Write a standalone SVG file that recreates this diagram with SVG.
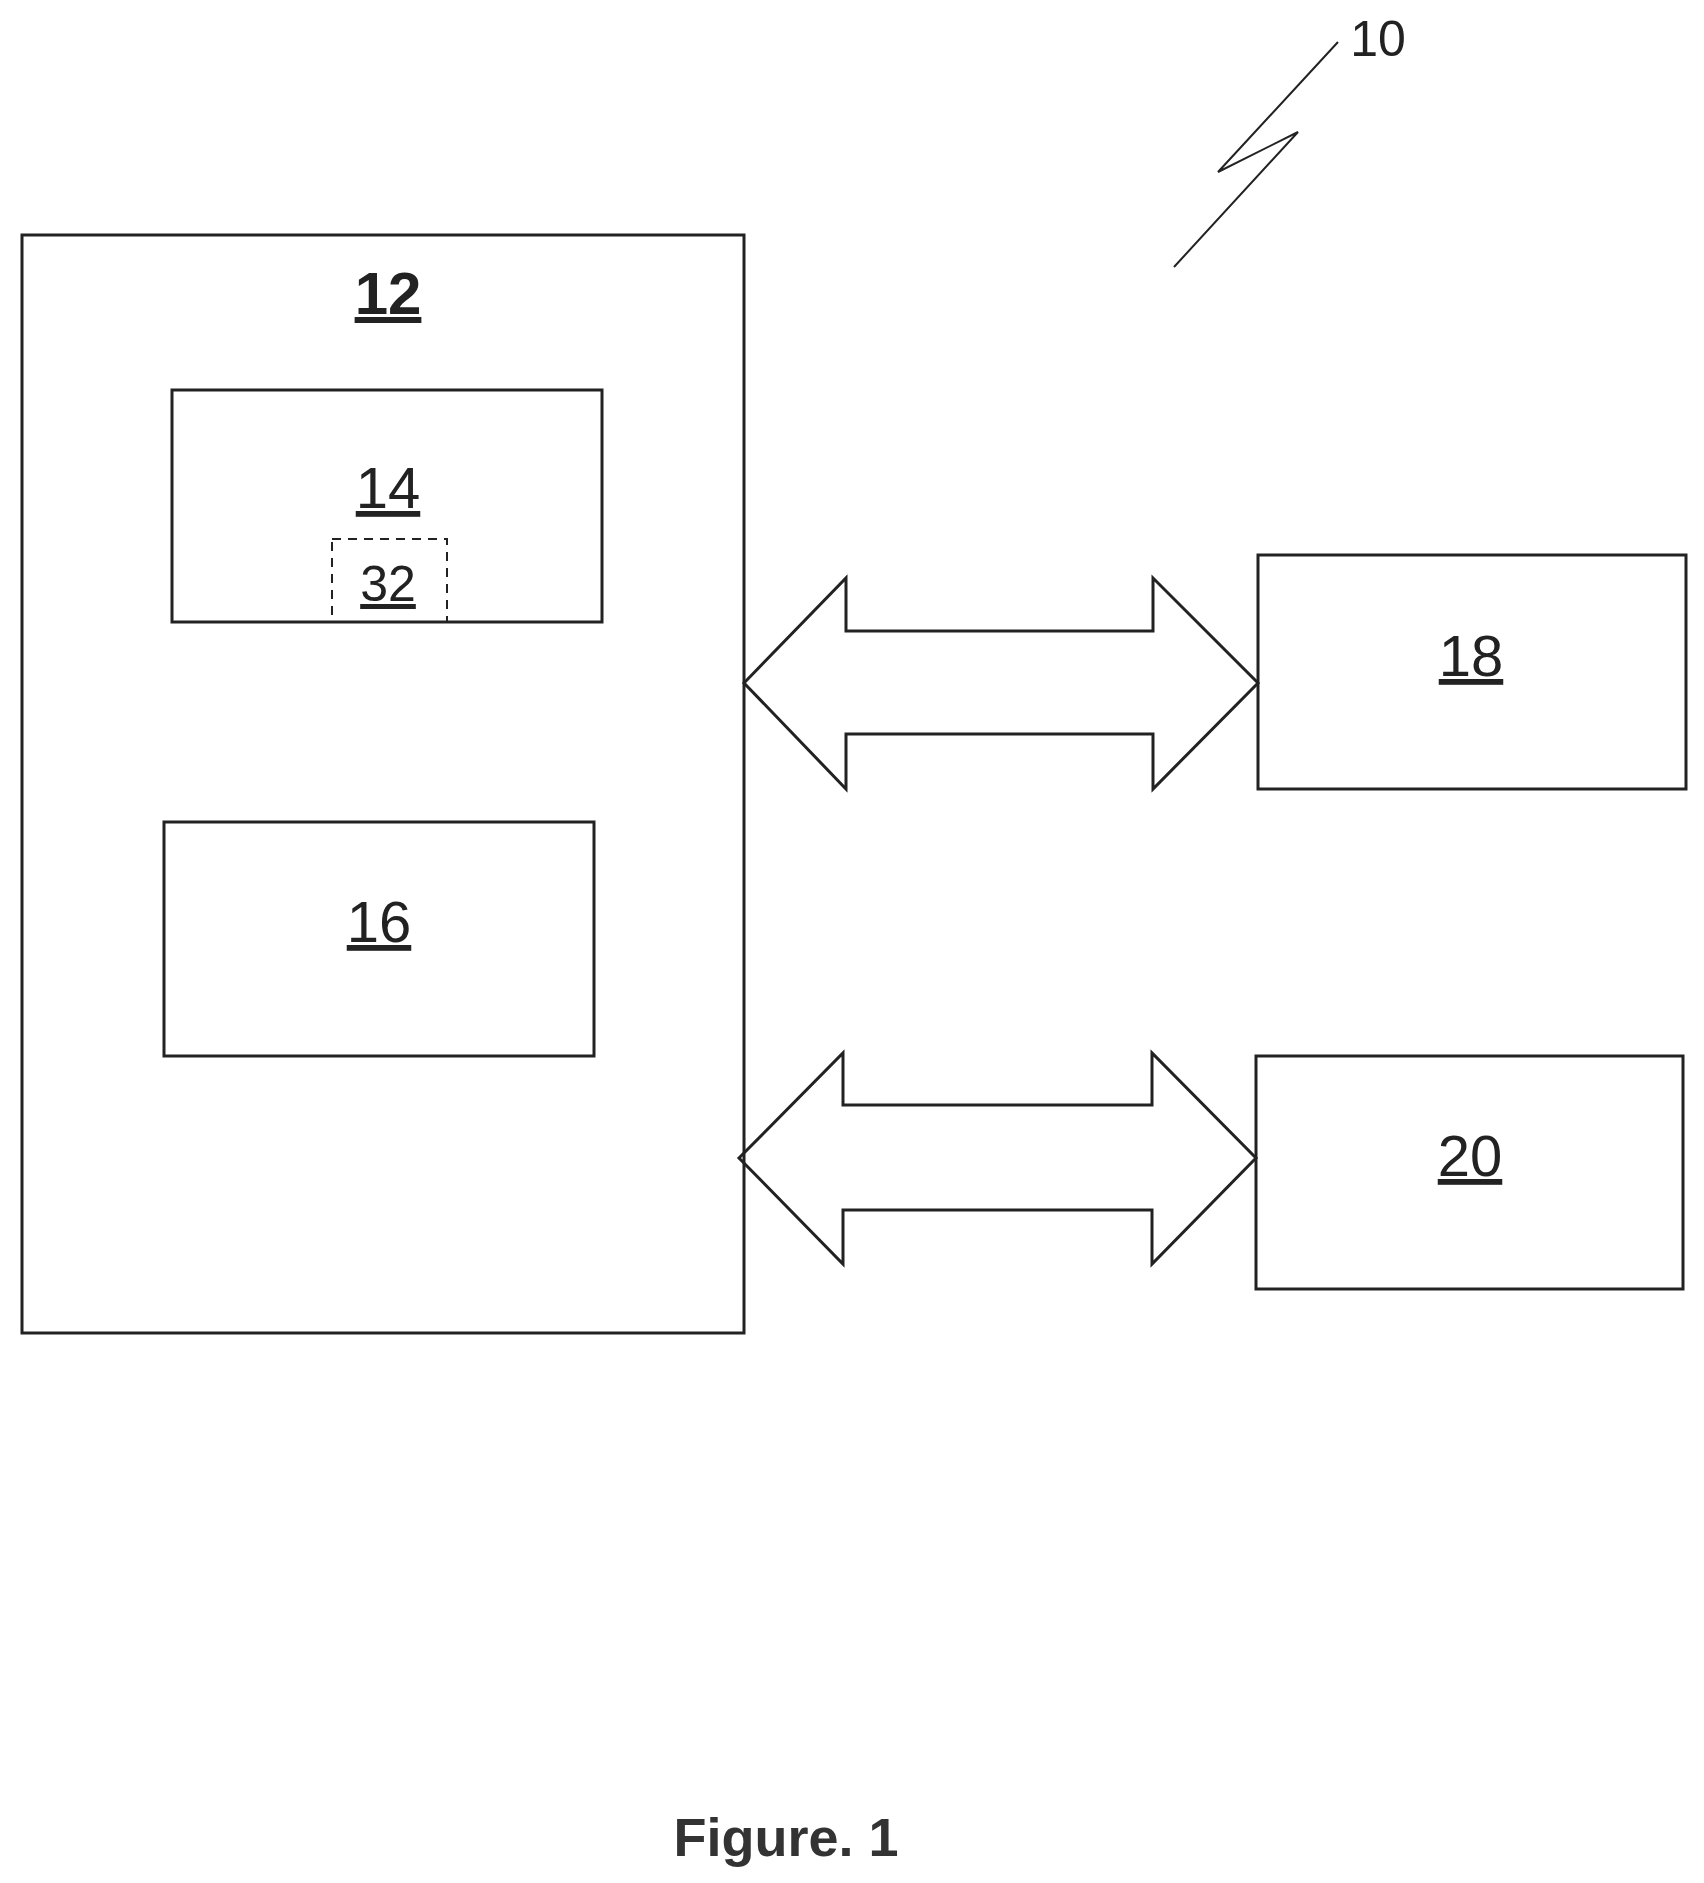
<svg xmlns="http://www.w3.org/2000/svg" width="1704" height="1883" viewBox="0 0 1704 1883">
<style>
.b{fill:none;stroke:#222;stroke-width:3}
.d{fill:none;stroke:#222;stroke-width:2;stroke-dasharray:9,7}
.t{font-family:"Liberation Sans",Arial,sans-serif;font-size:58px;fill:#222;text-anchor:middle;text-decoration:underline}
.u{stroke:#222;stroke-width:3}
</style>
<rect width="1704" height="1883" fill="#fff"/>
<g id="n10">
<text x="1378" y="56" class="t" style="text-decoration:none;font-size:50px">10</text>
<polyline class="b" style="stroke-width:2" points="1338,42 1218,172 1298,132 1174,267"/>
</g>
<g id="n12">
<rect class="b" x="22" y="235" width="722" height="1098"/>
<text x="388" y="314" class="t" style="font-weight:bold;font-size:60px">12</text>
</g>
<g id="n14">
<rect class="b" x="172" y="390" width="430" height="232"/>
<text x="388" y="508" class="t">14</text>
</g>
<g id="n32">
<rect class="d" x="332" y="539" width="115" height="83"/>
<text x="388" y="601" class="t" style="font-size:50px">32</text>
</g>
<g id="n16">
<rect class="b" x="164" y="822" width="430" height="234"/>
<text x="379" y="942" class="t">16</text>
</g>
<g id="n18">
<rect class="b" x="1258" y="555" width="428" height="234"/>
<text x="1471" y="676" class="t">18</text>
</g>
<g id="n20">
<rect class="b" x="1256" y="1056" width="427" height="233"/>
<text x="1470" y="1176" class="t">20</text>
</g>
<g id="connectors">
<polygon class="b" points="744,683 846,578 846,631 1153,631 1153,578 1258,683 1153,789 1153,734 846,734 846,789"/>
<polygon class="b" points="739,1158 843,1053 843,1105 1152,1105 1152,1053 1256,1158 1152,1264 1152,1210 843,1210 843,1264"/>
</g>
<text x="786" y="1856" style="font-family:'Liberation Sans',Arial,sans-serif;font-size:54px;font-weight:bold;fill:#333;text-anchor:middle">Figure. 1</text>
</svg>
